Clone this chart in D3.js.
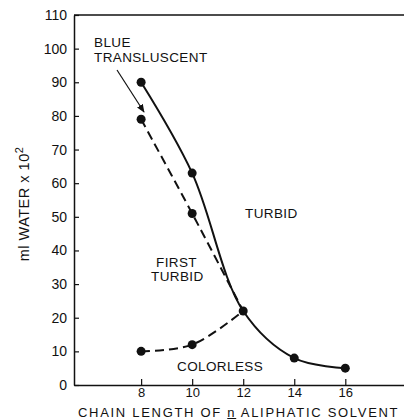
<!DOCTYPE html>
<html>
<head>
<meta charset="utf-8">
<script src="https://cdn.jsdelivr.net/npm/d3@7"></script>
<style>
  body { margin: 0; background: #fff; }
  text { font-family: "Liberation Sans", Arial, sans-serif; fill: #111; }
</style>
</head>
<body>
<div id="chart"></div>
<script>
// chart data
const chainLengths = [8, 10, 12, 14, 16];
const turbidLine = [90, 63, 22, 8, 5];          // solid curve
const firstTurbidX = [8, 10, 12];
const firstTurbidLine = [79, 51, 22];          // upper dashed
const colorlessX = [8, 10, 12];
const colorlessLine = [10, 12, 22];            // lower dashed
const yTicks = [0, 10, 20, 30, 40, 50, 60, 70, 80, 90, 100, 110];
const xTicks = [8, 10, 12, 14, 16];

const FRAME_WIDTH = 404;
const FRAME_HEIGHT = 419;
const MARGINS = {left: 74, right: 0, top: 15, bottom: 34};
const VIS_WIDTH = FRAME_WIDTH - MARGINS.left - MARGINS.right;
const VIS_HEIGHT = FRAME_HEIGHT - MARGINS.top - MARGINS.bottom;

const svg = d3.select('#chart')
  .append('svg')
    .attr('width', FRAME_WIDTH)
    .attr('height', FRAME_HEIGHT);

const xscale = d3.scaleLinear().domain([5.37, 18.3]).range([0, VIS_WIDTH]);
const yscale = d3.scaleLinear().domain([0, 110]).range([VIS_HEIGHT, 0]);

const g = svg.append('g')
  .attr('transform', 'translate(' + MARGINS.left + ',' + MARGINS.top + ')');

// axes, ticks pointing inward
const yAxis = g.append('g')
  .call(d3.axisLeft(yscale).tickValues(yTicks).tickSizeInner(-5).tickSizeOuter(0).tickPadding(7));
const xAxis = g.append('g')
  .attr('transform', 'translate(0,' + VIS_HEIGHT + ')')
  .call(d3.axisBottom(xscale).tickValues(xTicks).tickSizeInner(-6).tickSizeOuter(0).tickPadding(3));

[xAxis, yAxis].forEach((ax) => {
  ax.select('.domain').attr('stroke', '#111').attr('stroke-width', 1.5);
  ax.selectAll('.tick line').attr('stroke', '#111').attr('stroke-width', 1.2);
  ax.selectAll('.tick text').attr('font-size', '14px').attr('fill', '#111')
    .style('font-family', '"Liberation Sans", Arial, sans-serif');
});
xAxis.selectAll('.tick text').attr('font-size', '13px').attr('dy', '0.72em');

// top frame line
g.append('line')
  .attr('x1', 0).attr('x2', VIS_WIDTH)
  .attr('y1', 0).attr('y2', 0)
  .attr('stroke', '#111').attr('stroke-width', 1.5);

// curves
const line = d3.line()
  .x((d) => xscale(d[0]))
  .y((d) => yscale(d[1]))
  .curve(d3.curveCatmullRom.alpha(0.5));

const solidPts = chainLengths.map((c, i) => [c, turbidLine[i]]);
const dashUpper = firstTurbidX.map((c, i) => [c, firstTurbidLine[i]]);
const dashLower = colorlessX.map((c, i) => [c, colorlessLine[i]]);

g.append('path').datum(solidPts)
  .attr('d', line).attr('fill', 'none')
  .attr('stroke', '#111').attr('stroke-width', 2);
g.append('path').datum(dashUpper)
  .attr('d', line).attr('fill', 'none')
  .attr('stroke', '#111').attr('stroke-width', 2)
  .attr('stroke-dasharray', '9,5');
g.append('path').datum(dashLower)
  .attr('d', line).attr('fill', 'none')
  .attr('stroke', '#111').attr('stroke-width', 2)
  .attr('stroke-dasharray', '9,5');

// points
const allPts = solidPts.concat(dashUpper.slice(0, 2), dashLower.slice(0, 2));
g.selectAll('.pt')
  .data(allPts)
  .enter()
  .append('circle')
    .attr('cx', (d) => xscale(d[0]))
    .attr('cy', (d) => yscale(d[1]))
    .attr('r', 4.5)
    .attr('fill', '#111');

// arrow
svg.append('defs').append('marker')
  .attr('id', 'arrow')
  .attr('viewBox', '0 0 10 10')
  .attr('refX', 9).attr('refY', 5)
  .attr('markerWidth', 7).attr('markerHeight', 7)
  .attr('orient', 'auto')
  .append('path').attr('d', 'M0,1 L10,5 L0,9 Z').attr('fill', '#111');

svg.append('line')
  .attr('x1', 117).attr('y1', 70)
  .attr('x2', 144).attr('y2', 112)
  .attr('stroke', '#111').attr('stroke-width', 1.2)
  .attr('marker-end', 'url(#arrow)');

// annotations
const labels = [
  {t: 'BLUE', x: 94, y: 47},
  {t: 'TRANSLUSCENT', x: 94, y: 62},
  {t: 'TURBID', x: 245, y: 218},
  {t: 'FIRST', x: 156, y: 267},
  {t: 'TURBID', x: 151, y: 281},
  {t: 'COLORLESS', x: 177, y: 371}
];
svg.selectAll('.lab')
  .data(labels)
  .enter()
  .append('text')
    .attr('x', (d) => d.x)
    .attr('y', (d) => d.y)
    .attr('font-size', '13.5px')
    .attr('letter-spacing', '0.4px')
    .text((d) => d.t);

// x axis title with underlined n
const xt = svg.append('text')
  .attr('x', 78).attr('y', 417)
  .attr('font-size', '13px')
  .attr('letter-spacing', '1.7px');
xt.append('tspan').text('CHAIN LENGTH OF ');
xt.append('tspan').attr('text-decoration', 'underline').text('n');
xt.append('tspan').text(' ALIPHATIC SOLVENT');

// y axis title
const yt = svg.append('text')
  .attr('transform', 'translate(29,204) rotate(-90)')
  .attr('text-anchor', 'middle')
  .attr('font-size', '14.5px')
  .attr('letter-spacing', '0.5px');
yt.append('tspan').text('ml WATER x 10');
yt.append('tspan').attr('dy', '-6').attr('font-size', '11px').text('2');
</script>
</body>
</html>
